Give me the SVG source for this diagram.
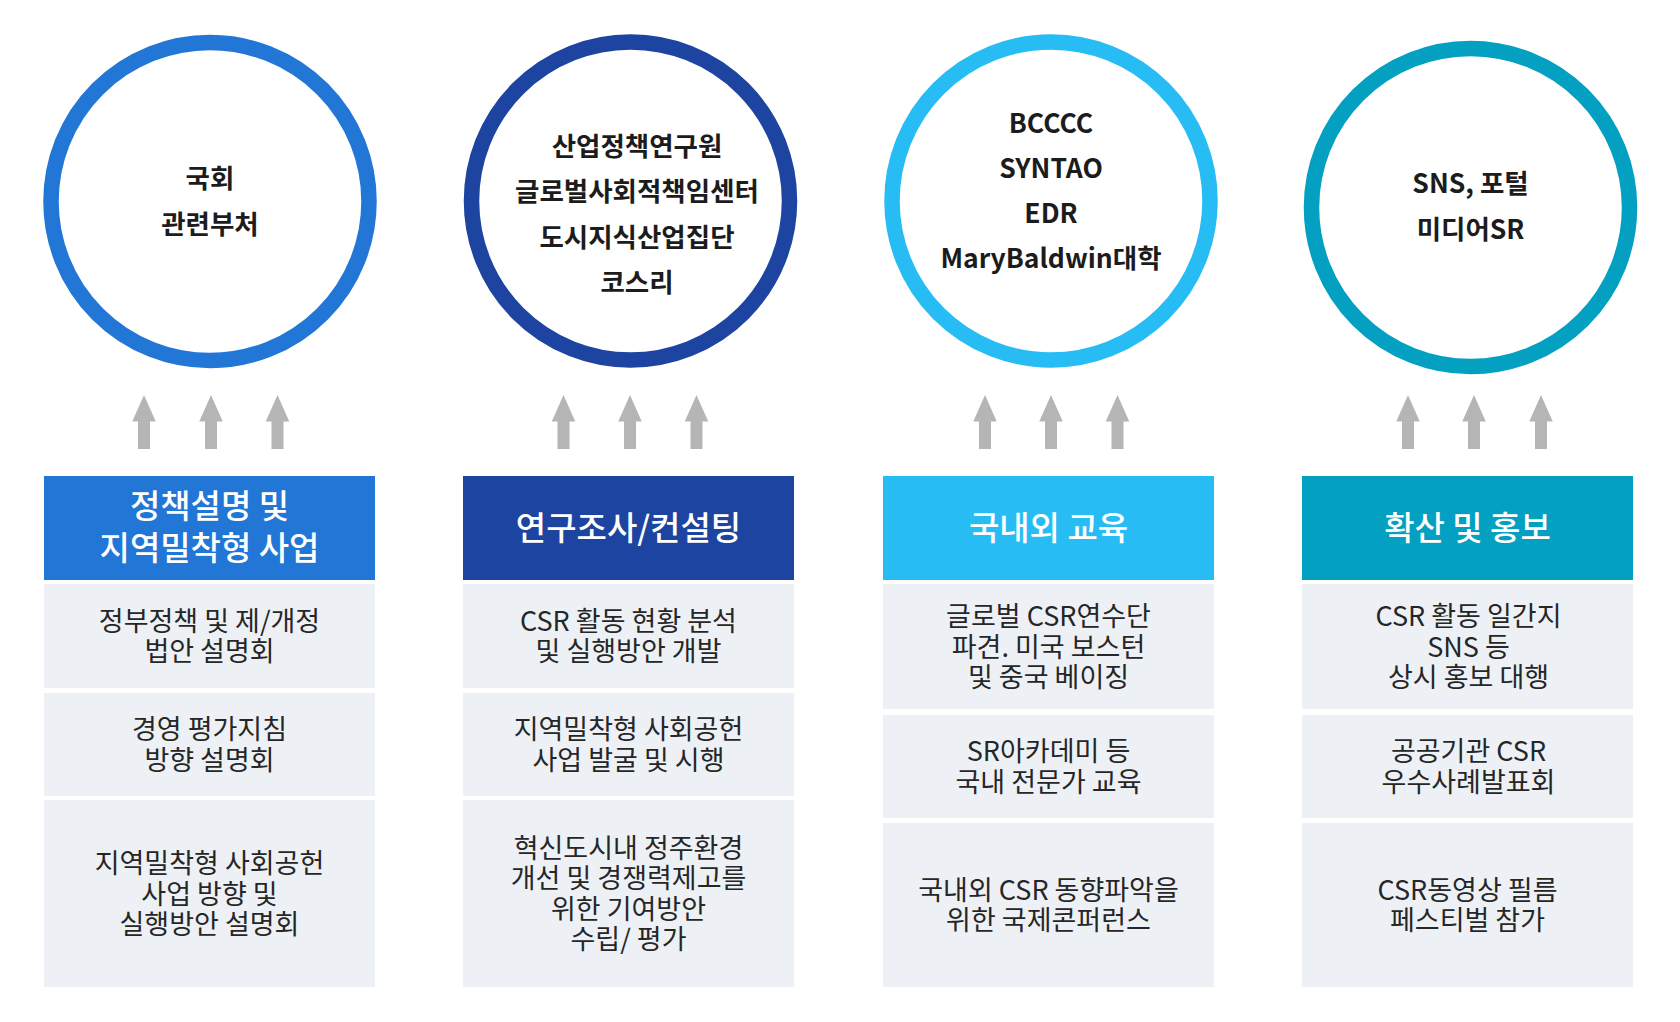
<svg xmlns="http://www.w3.org/2000/svg" xmlns:xlink="http://www.w3.org/1999/xlink" width="1680" height="1022" viewBox="0 0 1680 1022">
<style>
text{font-family:"Noto Sans CJK KR","Noto Sans",sans-serif;text-anchor:middle}
.ring{fill:#fff;stroke-width:15.5}
.ctext{font-size:26.5px;font-weight:700;fill:#1c1c1c}
.htext{font-size:33px;font-weight:500;fill:#fff}
.cell{fill:#edf1f5}
.ttext{font-size:27px;font-weight:400;fill:#262626}
.arrow{fill:#b5b5b5}
.c1{fill:#2276d6}.s1{stroke:#2276d6}
.c2{fill:#1d44a0}.s2{stroke:#1d44a0}
.c3{fill:#27bdf4}.s3{stroke:#27bdf4}
.c4{fill:#03a0c1}.s4{stroke:#03a0c1}
</style>
<defs>
<path id="arr" d="M0,0 L11.75,26.5 L6,26.5 L6,54 L-6,54 L-6,26.5 L-11.75,26.5 Z"/>
</defs>
<rect x="0" y="0" width="1680" height="1022" fill="#fff"/>

<g id="circle-1">
<circle class="ring s1" cx="210" cy="201.5" r="159"/>
<text class="ctext" x="210" y="188">국회</text>
<text class="ctext" x="210" y="233.5">관련부처</text>
</g>
<g id="circle-2">
<circle class="ring s2" cx="630.5" cy="201" r="159"/>
<text class="ctext" x="637" y="155.5">산업정책연구원</text>
<text class="ctext" x="637" y="201">글로벌사회적책임센터</text>
<text class="ctext" x="637" y="246.5">도시지식산업집단</text>
<text class="ctext" x="637" y="292">코스리</text>
</g>
<g id="circle-3">
<circle class="ring s3" cx="1051" cy="201" r="159"/>
<text class="ctext" x="1051" y="132.5">BCCCC</text>
<text class="ctext" x="1051" y="177.7">SYNTAO</text>
<text class="ctext" x="1051" y="223">EDR</text>
<text class="ctext" x="1051" y="268.3">MaryBaldwin대학</text>
</g>
<g id="circle-4">
<circle class="ring s4" cx="1470.5" cy="207.5" r="159"/>
<text class="ctext" x="1470.5" y="193">SNS, 포털</text>
<text class="ctext" x="1470.5" y="238.5">미디어SR</text>
</g>

<g id="connectors">
<use xlink:href="#arr" class="arrow" x="144" y="395"/>
<use xlink:href="#arr" class="arrow" x="211" y="395"/>
<use xlink:href="#arr" class="arrow" x="277.5" y="395"/>
<use xlink:href="#arr" class="arrow" x="563.5" y="395"/>
<use xlink:href="#arr" class="arrow" x="630" y="395"/>
<use xlink:href="#arr" class="arrow" x="696.5" y="395"/>
<use xlink:href="#arr" class="arrow" x="985" y="395"/>
<use xlink:href="#arr" class="arrow" x="1051" y="395"/>
<use xlink:href="#arr" class="arrow" x="1117.5" y="395"/>
<use xlink:href="#arr" class="arrow" x="1408" y="395"/>
<use xlink:href="#arr" class="arrow" x="1474" y="395"/>
<use xlink:href="#arr" class="arrow" x="1541" y="395"/>
</g>

<g id="header-1">
<rect class="c1" x="44" y="476" width="331" height="104"/>
<text class="htext" x="209.5" y="518">정책설명 및</text>
<text class="htext" x="209.5" y="559.5">지역밀착형 사업</text>
</g>
<g id="cell-1-1">
<rect class="cell" x="44" y="584" width="331" height="104"/>
<text class="ttext" x="209.5" y="630.8">정부정책 및 제/개정</text>
<text class="ttext" x="209.5" y="661.3">법안 설명회</text>
</g>
<g id="cell-1-2">
<rect class="cell" x="44" y="693" width="331" height="103"/>
<text class="ttext" x="209.5" y="739.3">경영 평가지침</text>
<text class="ttext" x="209.5" y="769.8">방향 설명회</text>
</g>
<g id="cell-1-3">
<rect class="cell" x="44" y="800" width="331" height="187"/>
<text class="ttext" x="209.5" y="873">지역밀착형 사회공헌</text>
<text class="ttext" x="209.5" y="903.5">사업 방향 및</text>
<text class="ttext" x="209.5" y="934">실행방안 설명회</text>
</g>

<g id="header-2">
<rect class="c2" x="463" y="476" width="331" height="104"/>
<text class="htext" x="628.5" y="539.5">연구조사/컨설팅</text>
</g>
<g id="cell-2-1">
<rect class="cell" x="463" y="584" width="331" height="104"/>
<text class="ttext" x="628.5" y="630.8">CSR 활동 현황 분석</text>
<text class="ttext" x="628.5" y="661.3">및 실행방안 개발</text>
</g>
<g id="cell-2-2">
<rect class="cell" x="463" y="693" width="331" height="103"/>
<text class="ttext" x="628.5" y="739.3">지역밀착형 사회공헌</text>
<text class="ttext" x="628.5" y="769.8">사업 발굴 및 시행</text>
</g>
<g id="cell-2-3">
<rect class="cell" x="463" y="800" width="331" height="187"/>
<text class="ttext" x="628.5" y="857.8">혁신도시내 정주환경</text>
<text class="ttext" x="628.5" y="888.3">개선 및 경쟁력제고를</text>
<text class="ttext" x="628.5" y="918.8">위한 기여방안</text>
<text class="ttext" x="628.5" y="949.3">수립/ 평가</text>
</g>

<g id="header-3">
<rect class="c3" x="883" y="476" width="331" height="104"/>
<text class="htext" x="1048.5" y="539.5">국내외 교육</text>
</g>
<g id="cell-3-1">
<rect class="cell" x="883" y="584" width="331" height="125"/>
<text class="ttext" x="1048.5" y="626">글로벌 CSR연수단</text>
<text class="ttext" x="1048.5" y="656.5">파견. 미국 보스턴</text>
<text class="ttext" x="1048.5" y="687">및 중국 베이징</text>
</g>
<g id="cell-3-2">
<rect class="cell" x="883" y="715" width="331" height="103"/>
<text class="ttext" x="1048.5" y="761.3">SR아카데미 등</text>
<text class="ttext" x="1048.5" y="791.8">국내 전문가 교육</text>
</g>
<g id="cell-3-3">
<rect class="cell" x="883" y="823" width="331" height="164"/>
<text class="ttext" x="1048.5" y="899.8">국내외 CSR 동향파악을</text>
<text class="ttext" x="1048.5" y="930.3">위한 국제콘퍼런스</text>
</g>

<g id="header-4">
<rect class="c4" x="1302" y="476" width="331" height="104"/>
<text class="htext" x="1467.5" y="539.5">확산 및 홍보</text>
</g>
<g id="cell-4-1">
<rect class="cell" x="1302" y="584" width="331" height="125"/>
<text class="ttext" x="1468.5" y="626">CSR 활동 일간지</text>
<text class="ttext" x="1468.5" y="656.5">SNS 등</text>
<text class="ttext" x="1468.5" y="687">상시 홍보 대행</text>
</g>
<g id="cell-4-2">
<rect class="cell" x="1302" y="715" width="331" height="103"/>
<text class="ttext" x="1468.5" y="761.3">공공기관 CSR</text>
<text class="ttext" x="1468.5" y="791.8">우수사례발표회</text>
</g>
<g id="cell-4-3">
<rect class="cell" x="1302" y="823" width="331" height="164"/>
<text class="ttext" x="1467.5" y="899.8">CSR동영상 필름</text>
<text class="ttext" x="1467.5" y="930.3">페스티벌 참가</text>
</g>
</svg>
